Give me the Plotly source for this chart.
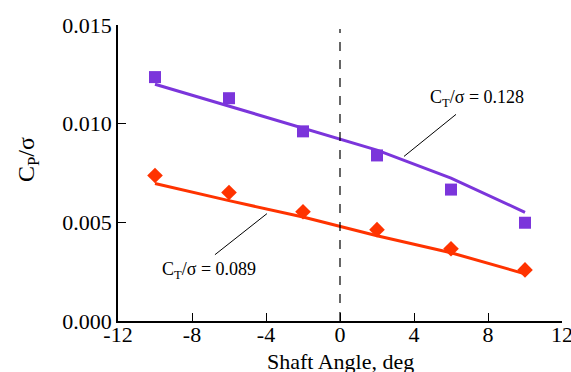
import plotly.graph_objects as go

# Shaft angle sweep (deg)
shaft_angle = [-10, -6, -2, 2, 6, 10]

# Measured power coefficient / solidity, two thrust levels
cp_ct128 = [0.01236, 0.01129, 0.00961, 0.00839, 0.00666, 0.00498]
cp_ct089 = [0.00737, 0.00651, 0.00554, 0.00463, 0.00366, 0.00259]

# Predicted curves
pred_angle = [-10, -6, -2, 2, 6, 10]
pred_ct128 = [0.01200, 0.01090, 0.00978, 0.00866, 0.00724, 0.00551]
pred_ct089 = [0.00697, 0.00610, 0.00527, 0.00432, 0.00346, 0.00239]

x_ticks = [-12, -8, -4, 0, 4, 8, 12]
y_ticks = [0.0, 0.005, 0.010, 0.015]

purple = "#7B35DB"
red = "#FF3300"
font_family = "Liberation Serif"

fig = go.Figure()

fig.add_trace(go.Scatter(x=pred_angle, y=pred_ct128, mode="lines",
                         line=dict(color=purple, width=3), showlegend=False))
fig.add_trace(go.Scatter(x=pred_angle, y=pred_ct089, mode="lines",
                         line=dict(color=red, width=3), showlegend=False))
fig.add_trace(go.Scatter(x=shaft_angle, y=cp_ct128, mode="markers",
                         marker=dict(symbol="square", size=12, color=purple),
                         showlegend=False))
fig.add_trace(go.Scatter(x=shaft_angle, y=cp_ct089, mode="markers",
                         marker=dict(symbol="diamond", size=12, color=red),
                         showlegend=False))

# Zero shaft-angle reference
fig.add_shape(type="line", x0=0, x1=0, y0=0, y1=0.0148, xref="x", yref="y",
              line=dict(color="black", width=1.2, dash="dash"))

# Leader lines for the curve labels
fig.add_shape(type="line", x0=6.27, y0=0.01047, x1=3.46, y1=0.00834,
              xref="x", yref="y", line=dict(color="black", width=1))
fig.add_shape(type="line", x0=-6.76, y0=0.00336, x1=-3.95, y1=0.00544,
              xref="x", yref="y", line=dict(color="black", width=1))

fig.add_annotation(x=7.41, y=0.01129, text="C<sub>T</sub>/σ = 0.128",
                   showarrow=False, font=dict(family=font_family, size=18, color="black"))
fig.add_annotation(x=-7.08, y=0.00254, text="C<sub>T</sub>/σ = 0.089",
                   showarrow=False, font=dict(family=font_family, size=18, color="black"))

# Axis titles
fig.add_annotation(x=0.5, y=0, xref="paper", yref="paper", yanchor="middle",
                   yshift=-40, text="Shaft Angle, deg", showarrow=False,
                   font=dict(family=font_family, size=22, color="black"))
fig.add_annotation(x=0, y=0.5, xref="paper", yref="paper", xanchor="center",
                   yanchor="middle", xshift=-90, yshift=13, textangle=-90,
                   text="C<sub>P</sub>/σ", showarrow=False,
                   font=dict(family=font_family, size=24, color="black"))

fig.update_layout(
    width=571, height=372,
    margin=dict(l=118, r=9, t=25, b=51),
    plot_bgcolor="white", paper_bgcolor="white",
    font=dict(family=font_family, size=22, color="black"),
    xaxis=dict(range=[-12, 12], tickvals=x_ticks, ticktext=[str(v) for v in x_ticks],
               showgrid=False, zeroline=False, showline=True, linecolor="black",
               linewidth=1.5, ticks="inside", ticklen=8, tickwidth=1.2, tickcolor="black",
               automargin=False, ticklabeloverflow="allow", ticklabelstandoff=-7),
    yaxis=dict(range=[0, 0.015], tickvals=y_ticks, ticktext=[f"{v:.3f}" for v in y_ticks],
               showgrid=False, zeroline=False, showline=True, linecolor="black",
               linewidth=1.5, ticks="inside", ticklen=8, tickwidth=1.2, tickcolor="black",
               automargin=False, ticklabeloverflow="allow"),
)

fig.write_html("out.html")
